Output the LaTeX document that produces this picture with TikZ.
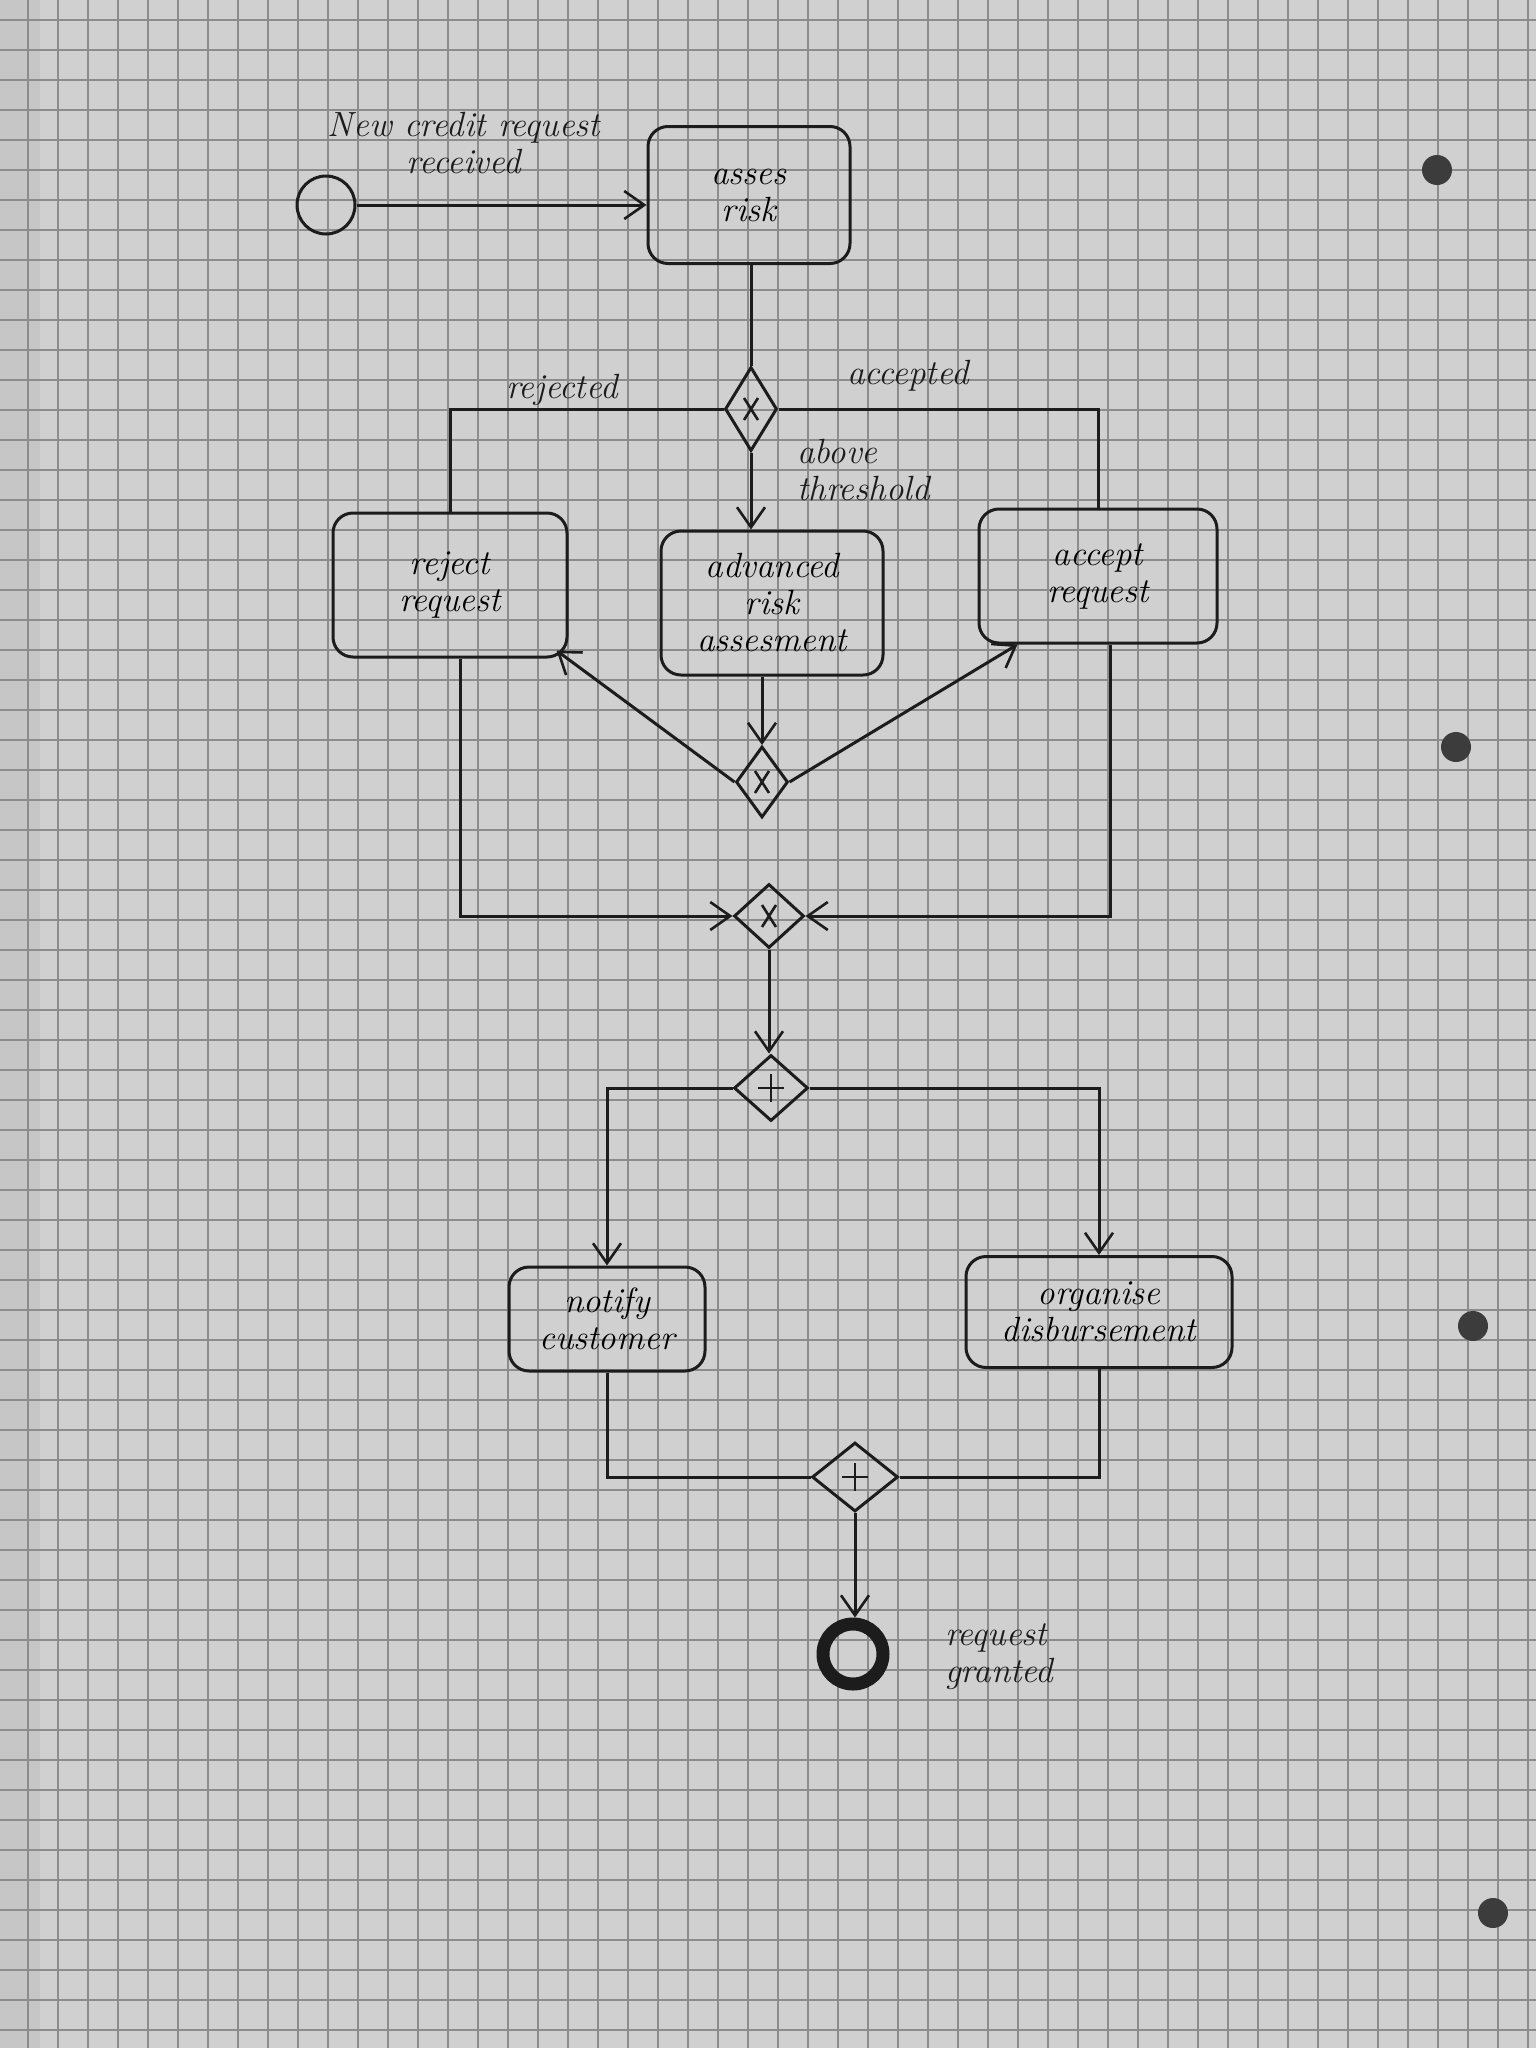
\documentclass[tikz,border=0pt]{standalone}
\usetikzlibrary{shapes.geometric,arrows.meta}
\definecolor{paper}{RGB}{208,208,208}
\definecolor{gridc}{RGB}{140,140,140}
\definecolor{inkc}{RGB}{28,28,28}
\definecolor{holec}{RGB}{60,60,60}
\newcommand{\handfont}{\itshape\fontsize{35}{37}\selectfont}
\begin{document}
\begin{tikzpicture}[x=1pt,y=-1pt,
  ink/.style={draw=inkc, line width=3pt},
  task/.style={ink, rounded corners=20pt, align=center, font=\handfont, inner sep=4pt},
  gate/.style={ink, diamond, inner sep=0pt},
  flow/.style={ink, -{Straight Barb[length=20pt,width=28pt,line width=2.6pt]}},
  plain/.style={ink},
  lbl/.style={font=\handfont, align=center, inner sep=0pt, text=inkc},
  gridline/.style={draw=gridc, line width=1.1pt}]
% paper
\fill[paper] (0,0) rectangle (1536,2048);
\useasboundingbox (0,0) rectangle (1536,2048);
\fill[gray!45] (0,0) rectangle (40,2048);
\foreach \x in {28,58,...,1536} \draw[gridline] (\x,0) -- (\x,2048);
\foreach \y in {20,50,...,2048} \draw[gridline] (0,\y) -- (1536,\y);
\foreach \p in {(1437,170),(1456,747),(1473,1326),(1493,1913)} \fill[holec] \p circle (15);

% nodes
\node[ink, circle, minimum size=58pt, inner sep=0pt] (start) at (326,205) {};
\node[lbl] (newlbl) at (464,143) {New credit request\\received};
\node[task, minimum width=202pt, minimum height=137pt] (assess) at (749,195) {asses\\risk};
\node[gate, minimum width=52pt, minimum height=84pt] (gw1) at (751,409) {};
\node[lbl] (rejlbl) at (562,390) {rejected};
\node[lbl] (acclbl) at (908,376) {accepted};
\node[lbl, align=left, anchor=west] (abvlbl) at (797,470) {above\\threshold};
\node[task, minimum width=234pt, minimum height=144pt] (reject) at (450,585) {reject\\request};
\node[task, minimum width=222pt, minimum height=144pt] (advanced) at (772,603) {advanced\\risk\\assesment};
\node[task, minimum width=238pt, minimum height=134pt] (accept) at (1098,576) {accept\\request};
\node[gate, minimum width=52pt, minimum height=71pt] (gw2) at (762,782) {};
\node[gate, minimum width=70pt, minimum height=64pt] (gw3) at (769,916) {};
\node[gate, minimum width=74pt, minimum height=66pt] (gw4) at (771,1088) {};
\node[task, minimum width=196pt, minimum height=104pt] (notify) at (607,1319) {notify\\customer};
\node[task, minimum width=266pt, minimum height=111pt] (organise) at (1099,1312) {organise\\disbursement};
\node[gate, minimum width=86pt, minimum height=69pt] (gw5) at (855,1477) {};
\node[draw=inkc, line width=13pt, circle, minimum size=60pt, inner sep=0pt] (end) at (853,1654) {};
\node[lbl, align=left, anchor=west] (grantlbl) at (945,1657) {request\\granted};

% gateway markers
\foreach \g in {gw1,gw2,gw3} {
  \draw[ink, line width=2.6pt] ([shift={(-7,-11)}]\g.center) -- ([shift={(7,11)}]\g.center);
  \draw[ink, line width=2.6pt] ([shift={(7,-11)}]\g.center) -- ([shift={(-7,11)}]\g.center);
}
\foreach \g in {gw4,gw5} {
  \draw[ink, line width=2.6pt] ([shift={(-13,0)}]\g.center) -- ([shift={(13,0)}]\g.center);
  \draw[ink, line width=2.6pt] ([shift={(0,-14)}]\g.center) -- ([shift={(0,14)}]\g.center);
}

% connectors
\draw[flow] (start.east) -- (start.east -| assess.west);
\draw[plain] (assess.south -| gw1.north) -- (gw1.north);
\draw[plain] (gw1.west) -| (reject.north);
\draw[plain] (gw1.east) -| (accept.north);
\draw[flow] (gw1.south) -- (gw1.south |- advanced.north);
\draw[flow] (advanced.south -| gw2.north) -- (gw2.north);
\draw[flow] (gw2.west) -- ([shift={(-12,-8)}]reject.south east);
\draw[flow] (gw2.east) -- ([xshift=40pt]accept.south west);
\draw[flow] ([xshift=10pt]reject.south) |- (gw3.west);
\draw[flow] ([xshift=12pt]accept.south) |- (gw3.east);
\draw[flow] (gw3.south) -- (gw3.south |- gw4.north);
\draw[flow] (gw4.west) -| (notify.north);
\draw[flow] (gw4.east) -| (organise.north);
\draw[plain] (notify.south) |- (gw5.west);
\draw[plain] (organise.south) |- (gw5.east);
\draw[flow] (gw5.south) -- (gw5.south |- end.north);
\end{tikzpicture}
\end{document}
